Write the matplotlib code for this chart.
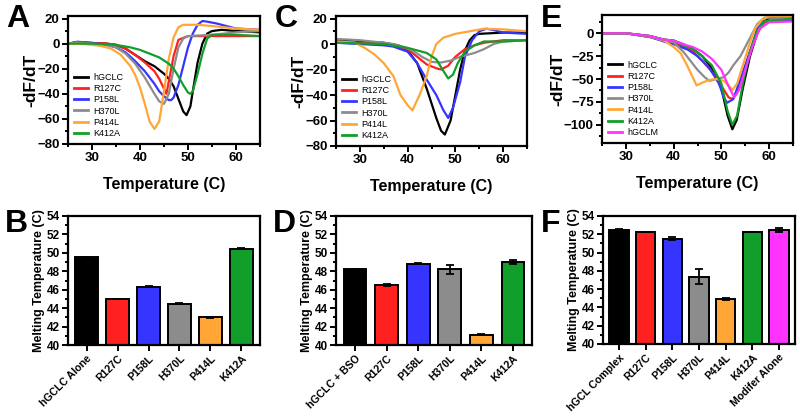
import matplotlib
matplotlib.use('Agg')
import matplotlib.pyplot as plt
from matplotlib.ticker import MultipleLocator

plt.rcParams['font.family'] = ['Liberation Sans', 'DejaVu Sans']
plt.rcParams['font.weight'] = 'bold'

COL = {'hGCLC': '#000000', 'R127C': '#ff2020', 'P158L': '#3535ff', 'H370L': '#8c8c8c',
       'P414L': '#ffa636', 'K412A': '#129e2a', 'hGCLM': '#ff33ff'}

# ---- Panel A: -dF/dT curves, hGCLC alone ----
a_hgclc_t = [25, 27, 30, 33, 35, 37, 39, 41, 43, 44, 45, 46, 47, 48, 49, 49.7, 50.5, 51, 52, 53, 54, 55, 57, 60, 65]
a_hgclc_v = [0, 1, 0.5, 0, -1, -4, -9, -14, -18, -21, -24, -28, -34, -44, -54, -57, -50, -38, -15, 0, 8, 10, 11, 10, 9]
a_r127c_t = [25, 27, 30, 33, 35, 37, 39, 41, 43, 44, 45, 45.5, 46, 47, 48, 50, 55, 60, 65]
a_r127c_v = [0, 1, 0.5, 0, -1, -4, -9, -15, -22, -28, -36, -40, -30, -10, 3, 6, 6, 6, 6]
a_p158l_t = [25, 27, 30, 33, 35, 37, 39, 41, 43, 44, 45, 46, 46.5, 47, 48, 49, 50, 51, 52, 53, 54, 56, 58, 60, 65]
a_p158l_v = [0, 1.5, 0.5, -1, -3, -7, -14, -22, -32, -38, -42, -45, -45, -43, -33, -18, -3, 8, 15, 18, 17.5, 16, 14, 12, 11]
a_h370l_t = [25, 27, 30, 33, 35, 37, 39, 41, 43, 44, 45, 46, 47, 48, 49, 50, 55, 60, 65]
a_h370l_v = [0, 1, 0, -1, -3, -8, -16, -27, -40, -46, -48, -40, -20, -3, 4, 6, 7, 9, 10]
a_p414l_t = [25, 27, 30, 32, 34, 36, 38, 39, 40, 41, 42, 43, 44, 45, 46, 47, 48, 49, 52, 55, 60, 65]
a_p414l_v = [0, 0, -1, -2, -4, -9, -18, -25, -35, -48, -62, -68, -62, -38, -12, 5, 13, 15, 15, 14, 12, 11]
a_k412a_t = [25, 30, 35, 38, 40, 42, 44, 46, 47, 48, 49, 50, 50.5, 51, 52, 53, 54, 55, 60, 65]
a_k412a_v = [0, 0, -1, -3, -5, -8, -11, -16, -20, -26, -33, -39, -40, -38, -24, -8, 4, 7, 7, 6]

# ---- Panel C: -dF/dT curves, + BSO ----
c_hgclc_t = [25, 30, 35, 38, 40, 42, 44, 46, 47, 47.8, 49, 50, 51, 52, 53, 54, 55, 60, 65]
c_hgclc_v = [3, 2, 1, -1, -5, -15, -35, -58, -68, -71, -60, -40, -20, -5, 3, 7, 8, 9, 9]
c_r127c_t = [25, 30, 35, 38, 40, 42, 44, 46, 47, 48.5, 50, 52, 54, 56, 60, 65]
c_r127c_v = [2, 1, 0, -2, -4, -10, -16, -19, -20, -17, -10, -4, -1, 1, 3, 3]
c_p158l_t = [25, 30, 35, 37, 40, 42, 44, 46, 47.5, 48.5, 49.5, 51, 52, 53.5, 55, 56.5, 58, 60, 65]
c_p158l_v = [1, 0, -1, -2, -6, -15, -28, -40, -52, -58, -50, -30, -10, 3, 10, 12, 11, 9, 8]
c_h370l_t = [25, 30, 35, 37, 39, 41, 43, 45, 47, 49, 51, 54, 56, 58, 60, 65]
c_h370l_v = [4, 3, 1, 0, -2, -5, -10, -14, -14.5, -13, -10, -7, -4, 0, 2, 3]
c_p414l_t = [25, 29, 31, 33, 35, 37, 38.5, 40, 41, 42.5, 44, 45, 46, 47.5, 50, 53, 56, 60, 65]
c_p414l_v = [2, 1, -3, -8, -15, -25, -40, -48, -52, -40, -25, -10, 0, 5, 8, 10, 12, 11.5, 10]
c_k412a_t = [25, 30, 35, 40, 44, 46, 47.3, 48.5, 49.5, 50.5, 52, 54, 56, 60, 65]
c_k412a_v = [1, 0.5, 0, -3, -7, -12, -20, -27, -24, -15, -6, -1, 2, 2, 3]

# ---- Panel E: -dF/dT curves, holoenzyme ----
e_hgclc_t = [25, 30, 35, 38, 40, 42, 44, 46, 48, 50, 51.3, 52.3, 53.2, 54.5, 56, 57.5, 58.5, 60, 65]
e_hgclc_v = [0, 0, -3, -7, -8, -12, -17, -25, -38, -60, -90, -105, -95, -60, -25, 0, 10, 17, 18]
e_r127c_t = [25, 30, 35, 38, 40, 42, 44, 46, 48.5, 50.3, 51.5, 52.3, 53.3, 54.5, 56, 57.5, 59, 65]
e_r127c_v = [0, 0, -4, -8, -10, -14, -20, -30, -45, -60, -70, -72, -65, -45, -20, 0, 12, 15]
e_p158l_t = [25, 30, 35, 38, 40, 43, 45, 47.5, 49.5, 50.5, 51.2, 52.5, 54, 56, 57.5, 59, 65]
e_p158l_v = [0, 0, -4, -9, -12, -18, -25, -38, -55, -70, -76, -72, -50, -20, 5, 14, 14]
e_h370l_t = [25, 30, 35, 38, 40, 42, 43.5, 45, 46.5, 47.5, 49, 50.5, 51.5, 52.5, 54, 56, 57.5, 59, 65]
e_h370l_v = [0, 0, -4, -8, -10, -20, -30, -40, -48, -52, -50, -48, -43, -35, -25, -5, 10, 17, 17]
e_p414l_t = [25, 30, 35, 38, 40, 41.5, 42.8, 44, 44.8, 46, 47.5, 49, 50.5, 51.5, 52.3, 53.3, 54.5, 56, 57, 58.5, 60, 65]
e_p414l_v = [0, 0, -3, -8, -15, -22, -35, -48, -57, -54, -51, -50, -52, -57, -62, -55, -35, -10, 5, 15, 19, 19]
e_k412a_t = [25, 30, 35, 38, 40, 42, 44, 46, 48, 50, 51.3, 52.3, 53.3, 54.5, 56, 57.5, 59, 65]
e_k412a_v = [0, 0, -3, -7, -8, -13, -17, -25, -35, -55, -85, -100, -90, -55, -20, 3, 13, 16]
e_hgclm_t = [25, 30, 35, 38, 40, 42, 44, 46, 48, 50, 51.5, 52.7, 53.7, 55, 56.5, 58, 60, 65]
e_hgclm_v = [0, 0, -3, -7, -8, -12, -15, -20, -28, -40, -58, -70, -62, -40, -15, 5, 12, 13]

# ---- Bar panels: melting temperatures ----
b_labels = ['hGCLC Alone', 'R127C', 'P158L', 'H370L', 'P414L', 'K412A']
b_tm = [49.5, 45.0, 46.3, 44.5, 43.0, 50.45]
b_err = [0.03, 0.03, 0.05, 0.03, 0.03, 0.05]
b_keys = ['hGCLC', 'R127C', 'P158L', 'H370L', 'P414L', 'K412A']

d_labels = ['hGCLC + BSO', 'R127C', 'P158L', 'H370L', 'P414L', 'K412A']
d_tm = [48.2, 46.5, 48.8, 48.2, 41.1, 49.0]
d_err = [0.05, 0.15, 0.05, 0.45, 0.05, 0.2]
d_keys = b_keys

f_labels = ['hGCL Complex', 'R127C', 'P158L', 'H370L', 'P414L', 'K412A', 'Modifer Alone']
f_tm = [52.5, 52.25, 51.5, 47.35, 44.9, 52.25, 52.5]
f_err = [0.03, 0.05, 0.15, 0.8, 0.12, 0.05, 0.2]
f_keys = ['hGCLC', 'R127C', 'P158L', 'H370L', 'P414L', 'K412A', 'hGCLM']

W, H = 800, 416
fig = plt.figure(figsize=(8, 4.16), dpi=100)


def px_axes(x0, y0, x1, y1):
    return fig.add_axes([x0 / W, 1 - y1 / H, (x1 - x0) / W, (y1 - y0) / H])


def style(ax, size=9.5):
    for s in ax.spines.values():
        s.set_linewidth(1.6)
    ax.tick_params(which='both', direction='out', width=1.4, labelsize=size, pad=2)
    ax.tick_params(which='major', length=4)
    ax.tick_params(which='minor', length=2.5)
    for lab in ax.get_xticklabels() + ax.get_yticklabels():
        lab.set_fontweight('bold')


def line_panel(ax, curves, ylim, ymaj, ymin):
    for name, t, v in curves:
        ax.plot(t, v, color=COL[name], lw=1.6, label=name)
    ax.set_xlim(25, 65)
    ax.set_ylim(*ylim)
    ax.xaxis.set_major_locator(MultipleLocator(10))
    ax.xaxis.set_minor_locator(MultipleLocator(5))
    ax.yaxis.set_major_locator(MultipleLocator(ymaj))
    ax.yaxis.set_minor_locator(MultipleLocator(ymin))
    ax.set_xlabel('Temperature (C)', fontsize=11.5, fontweight='bold', labelpad=9)
    ax.set_ylabel('-dF/dT', fontsize=12.5, fontweight='bold', labelpad=-1)
    style(ax)
    leg = ax.legend(loc='lower left', frameon=False, fontsize=6.5, handlelength=1.6,
                    handletextpad=0.6, labelspacing=0.25, borderaxespad=0.25)
    for txt in leg.get_texts():
        txt.set_fontweight('normal')
    for h in leg.legend_handles:
        h.set_linewidth(2)


def bar_panel(ax, labels, tm, err, keys):
    x = range(len(labels))
    ax.bar(x, tm, width=0.72, color=[COL[k] for k in keys], edgecolor='black', linewidth=1.4,
           yerr=err, error_kw=dict(ecolor='black', elinewidth=1.3, capsize=3, capthick=1.3), zorder=2)
    ax.set_ylim(40, 54)
    ax.set_xlim(-0.6, len(labels) - 0.4)
    ax.yaxis.set_major_locator(MultipleLocator(2))
    ax.yaxis.set_minor_locator(MultipleLocator(1))
    ax.set_xticks(list(x))
    ax.set_xticklabels(labels, rotation=45, ha='right', rotation_mode='anchor')
    ax.set_ylabel('Melting Temperature (C)', fontsize=9, fontweight='bold', labelpad=1)
    style(ax, size=8.5)
    ax.tick_params(axis='x', labelsize=7.6)


axA = px_axes(68, 16, 260, 144)
line_panel(axA, [('hGCLC', a_hgclc_t, a_hgclc_v), ('R127C', a_r127c_t, a_r127c_v),
                 ('P158L', a_p158l_t, a_p158l_v), ('H370L', a_h370l_t, a_h370l_v),
                 ('P414L', a_p414l_t, a_p414l_v), ('K412A', a_k412a_t, a_k412a_v)],
           (-80, 22), 20, 10)

axC = px_axes(336, 16, 527, 146)
line_panel(axC, [('hGCLC', c_hgclc_t, c_hgclc_v), ('R127C', c_r127c_t, c_r127c_v),
                 ('P158L', c_p158l_t, c_p158l_v), ('H370L', c_h370l_t, c_h370l_v),
                 ('P414L', c_p414l_t, c_p414l_v), ('K412A', c_k412a_t, c_k412a_v)],
           (-80, 22), 20, 10)

axE = px_axes(602, 15, 793, 143)
line_panel(axE, [('hGCLC', e_hgclc_t, e_hgclc_v), ('R127C', e_r127c_t, e_r127c_v),
                 ('P158L', e_p158l_t, e_p158l_v), ('H370L', e_h370l_t, e_h370l_v),
                 ('P414L', e_p414l_t, e_p414l_v), ('K412A', e_k412a_t, e_k412a_v),
                 ('hGCLM', e_hgclm_t, e_hgclm_v)],
           (-120, 20), 25, 12.5)

axB = px_axes(68, 216, 260, 345)
bar_panel(axB, b_labels, b_tm, b_err, b_keys)
axD = px_axes(336, 216, 532, 345)
bar_panel(axD, d_labels, d_tm, d_err, d_keys)
axF = px_axes(603, 216, 795, 344)
bar_panel(axF, f_labels, f_tm, f_err, f_keys)

for letter, (lx, ly) in zip('ABCDEF', [(18, 19), (16, 224), (286, 19), (284, 224), (552, 19), (551, 224)]):
    fig.text(lx / W, 1 - ly / H, letter, fontsize=23, fontweight='bold', ha='center', va='center')

fig.savefig('out.png', dpi=100)
